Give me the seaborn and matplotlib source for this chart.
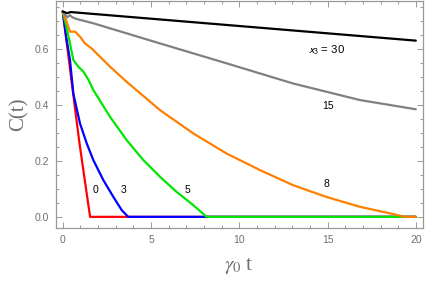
import pandas as pd
import matplotlib
matplotlib.use("Agg")
import matplotlib.pyplot as plt
import seaborn as sns
from matplotlib.ticker import MultipleLocator

# values, one curve per x3 value
t_0 = [0.0, 0.35, 0.7, 0.94, 1.25, 1.55, 20.0]
c_0 = [0.733, 0.56, 0.385, 0.267, 0.13, 0.0, 0.0]

t_3 = [0.0, 0.2, 0.41, 0.6, 0.98, 1.36, 1.73, 2.3, 2.87, 3.34, 3.71, 20.0]
c_3 = [0.733, 0.64, 0.56, 0.44, 0.333, 0.262, 0.203, 0.131, 0.071, 0.024, 0.0, 0.0]

t_5 = [0.0, 0.2, 0.41, 0.6, 0.88, 1.17, 1.45, 1.73, 2.68, 3.62, 4.56, 5.51, 6.45,
       7.39, 8.15, 20.0]
c_5 = [0.733, 0.68, 0.619, 0.56, 0.536, 0.518, 0.49, 0.453, 0.357, 0.274, 0.203,
       0.143, 0.089, 0.042, 0.0, 0.0]

t_8 = [0.0, 0.2, 0.41, 0.7, 0.98, 1.26, 1.64, 2.68, 3.62, 5.51, 7.39, 9.28, 11.17,
       13.05, 14.94, 16.83, 18.71, 19.37, 20.0]
c_8 = [0.733, 0.70, 0.661, 0.661, 0.643, 0.619, 0.601, 0.536, 0.482, 0.381, 0.298,
       0.226, 0.167, 0.113, 0.071, 0.036, 0.010, 0.0, 0.0]

t_15 = [0.0, 0.13, 0.26, 0.4, 0.55, 0.8, 1.73, 5.51, 9.28, 13.05, 16.83, 20.0]
c_15 = [0.733, 0.722, 0.712, 0.72, 0.712, 0.706, 0.691, 0.619, 0.548, 0.476, 0.417,
        0.384]

t_30 = [0.0, 0.25, 0.45, 20.0]
c_30 = [0.733, 0.727, 0.731, 0.629]

curve_labels = ["0", "3", "5", "8", "15", r"$x_3$ = 30"]
label_t = [1.88, 3.47, 7.07, 14.96, 15.03, 14.94]
label_c = [0.095, 0.095, 0.095, 0.119, 0.396, 0.595]
label_size = [7.5, 7.5, 7.5, 7.5, 7.5, 8.2]

colors = ["#ff0000", "#0000ff", "#00e600", "#ff8000", "#808080", "#000000"]

series = [(t_0, c_0), (t_3, c_3), (t_5, c_5), (t_8, c_8), (t_15, c_15), (t_30, c_30)]
frames = []
for name, (tt, cc) in zip(["0", "3", "5", "8", "15", "30"], series):
    frames.append(pd.DataFrame({"t": tt, "C": cc, "x3": name}))
df = pd.concat(frames, ignore_index=True)

sns.set_style("ticks")
fig = plt.figure(figsize=(4.25, 2.84), dpi=100)
ax = fig.add_axes([0.131, 0.196, 0.864, 0.802])

sns.lineplot(data=df, x="t", y="C", hue="x3", palette=colors, sort=False,
             estimator=None, linewidth=1.6, legend=False, ax=ax)

for lab, tx, cy, fs in zip(curve_labels, label_t, label_c, label_size):
    ax.text(tx, cy, lab, fontsize=fs, ha="center", va="center",
            family="Liberation Sans", math_fontfamily="stixsans", color="black")

ax.set_xlim(-0.4, 20.4)
ax.set_ylim(-0.041, 0.772)
ax.xaxis.set_major_locator(MultipleLocator(5))
ax.xaxis.set_minor_locator(MultipleLocator(1))
ax.yaxis.set_major_locator(MultipleLocator(0.2))
ax.yaxis.set_minor_locator(MultipleLocator(0.05))
ax.yaxis.set_major_formatter(plt.FuncFormatter(lambda v, p: f"{v:.1f}"))

grey = "#999999"
for s in ax.spines.values():
    s.set_color(grey)
    s.set_linewidth(0.9)
ax.tick_params(which="both", direction="in", top=True, right=True,
               color=grey, labelcolor="#707070", labelsize=7.5, width=0.7)
ax.tick_params(which="major", length=4, pad=5)
ax.tick_params(which="minor", length=2.2)
for lbl in ax.get_xticklabels() + ax.get_yticklabels():
    lbl.set_family("Liberation Sans")

ax.set_xlabel(r"$\gamma_0$ t", fontsize=15, color="#707070",
              family="Liberation Serif", math_fontfamily="stix", labelpad=8)
ax.set_ylabel("C(t)", fontsize=15, color="#707070",
              family="Liberation Serif", labelpad=4)

fig.savefig("out.png", dpi=100)
